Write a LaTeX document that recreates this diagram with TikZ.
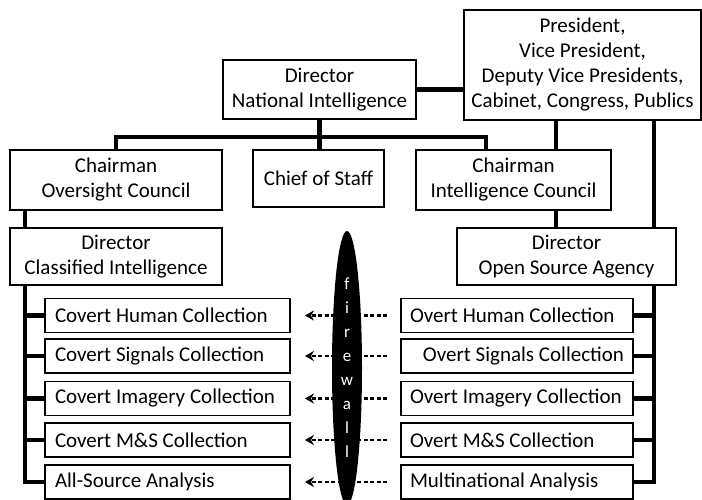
\documentclass[tikz,border=0pt]{standalone}
\usepackage{fontspec}
\setmainfont{Carlito}
\usetikzlibrary{shapes.geometric,arrows.meta}

\begin{document}
\begin{tikzpicture}[x=1pt,y=-1pt]
\tikzstyle{every node}=[font=\fontsize{21}{25}\selectfont]
\tikzstyle{box}=[draw, line width=1.8pt, inner sep=0pt, align=center]
\tikzstyle{covert}=[box, text width=225pt, inner xsep=10pt, minimum height=34pt, align=flush left]
\tikzstyle{overt}=[box, text width=214pt, inner xsep=9pt, minimum height=34pt, align=flush left]
\tikzstyle{link}=[line width=4.5pt]
\tikzstyle{leak}=[dash pattern=on 4pt off 2.5pt, line width=2.3pt, -{Stealth[length=9pt,width=10pt]}]
\tikzstyle{firewall}=[ellipse, fill=black, inner sep=0pt, minimum width=30pt, minimum height=274pt, text=white, align=center, font=\fontsize{17}{24}\selectfont]
	\useasboundingbox (0,0) rectangle (702,500);

	% top of the chart
	\node[box, minimum width=193pt, minimum height=59pt] (dni) at (319.5,89.5) {Director\\National Intelligence};
	\node[box, minimum width=237pt, minimum height=110pt] (pres) at (582.5,65) {President,\\Vice President,\\Deputy Vice Presidents,\\Cabinet, Congress, Publics};
	\node[box, minimum width=212pt, minimum height=60pt] (cos) at (116,180) {Chairman\\Oversight Council};
	\node[box, minimum width=131pt, minimum height=57pt] (cost) at (318.5,178.5) {Chief of Staff};
	\node[box, minimum width=195pt, minimum height=60pt] (cic) at (513.5,180) {Chairman\\Intelligence Council};
	\node[box, minimum width=212pt, minimum height=57pt] (dci) at (116,256.5) {Director\\Classified Intelligence};
	\node[box, minimum width=219pt, minimum height=57pt] (dosa) at (566.5,256.5) {Director\\Open Source Agency};

	% the two sides
	\node[covert] (chc) at (167.5,315.5) {Covert Human Collection};
	\node[covert] (csc) at (167.5,356) {Covert Signals Collection};
	\node[covert] (cic2) at (167.5,398.5) {Covert Imagery Collection};
	\node[covert] (cmc) at (167.5,440) {Covert M\&S Collection};
	\node[covert] (cas) at (167.5,482) {All-Source Analysis};
	\node[overt] (ohc) at (517,315.5) {Overt Human Collection};
	\node[overt, align=flush right] (osc) at (517,356) {Overt Signals Collection};
	\node[overt] (oic) at (517,398.5) {Overt Imagery Collection};
	\node[overt] (omc) at (517,440) {Overt M\&S Collection};
	\node[overt] (oma) at (517,482) {Multinational Analysis};

	\coordinate (busR) at (486,137);
	\coordinate (pc) at (556,0);
	\coordinate (pd) at (654,0);
	\coordinate (lb) at (25,0);

	\draw[link] (dni.east) -- (dni.east -| pres.west);
	\draw[link] (dni.south) -- (dni.south |- cost.north);
	\draw[link] (cos.north) |- (busR) -- (busR |- cic.north);
	\draw[link] (pres.south -| pc) -- (cic.north -| pc);
	\draw[link] (cic.south -| pc) -- (dosa.north -| pc);
	\draw[link] (pres.south -| pd) -- (dosa.north -| pd);
	\draw[link] (cos.south -| lb) -- (dci.north -| lb);
	\draw[link] (dci.south -| lb) |- (cas.west);
	\draw[link] (dosa.south -| pd) |- (oma.east);
	\foreach \c in {chc,csc,cic2,cmc}
		\draw[link] (lb |- \c.west) -- (\c.west);
	\foreach \o in {ohc,osc,oic,omc}
		\draw[link] (pd |- \o.east) -- (\o.east);

	\foreach \o/\c in {ohc/chc,osc/csc,oic/cic2,omc/cmc,oma/cas}
		\draw[leak, shorten <=13pt, shorten >=14pt] (\o.west) -- (\o.west -| \c.east);

	\node[firewall] (fw) at (347,368) {f\\i\\r\\e\\w\\a\\l\\l};
\end{tikzpicture}
\end{document}
